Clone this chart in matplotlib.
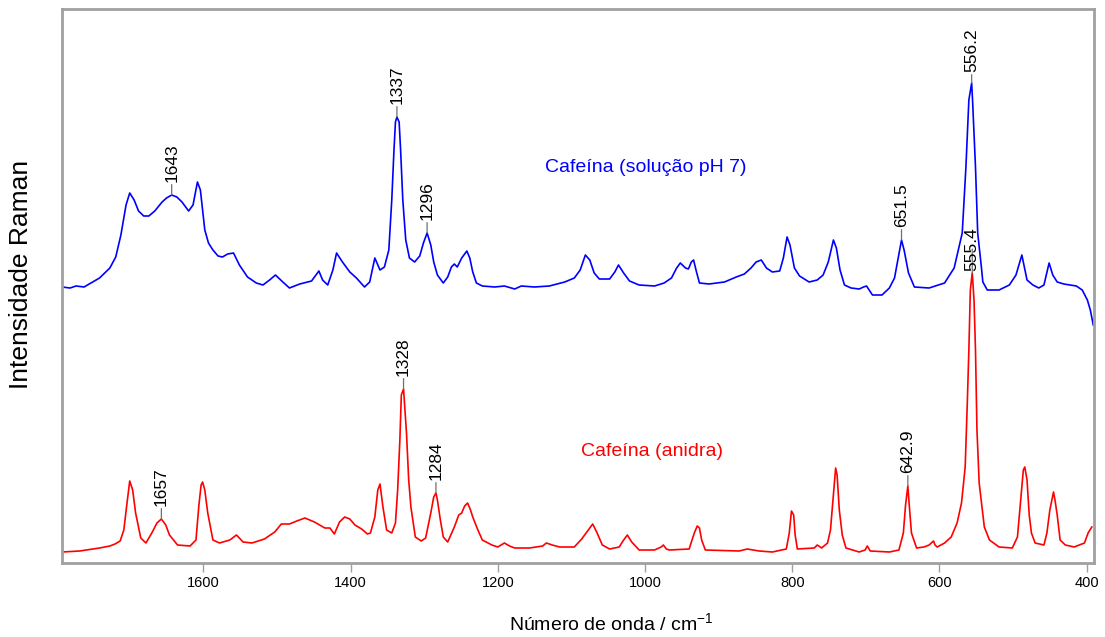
import numpy as np
import matplotlib
matplotlib.use("Agg")
import matplotlib.pyplot as plt

# ── Data (intensity in arbitrary units) ──────────────────────────────────────
blue_wn = [1792, 1781, 1773, 1762, 1741, 1727, 1719, 1712, 1705, 1700, 1694, 1688,
           1681, 1674, 1666, 1656, 1650, 1643, 1636, 1629, 1620, 1614, 1608, 1604,
           1598, 1593, 1587, 1580, 1574, 1567, 1559, 1551, 1540, 1528, 1519, 1510,
           1502, 1492, 1483, 1469, 1453, 1443, 1438, 1431, 1424, 1419, 1411, 1401,
           1392, 1381, 1374, 1367, 1360, 1354, 1348, 1344, 1341, 1339, 1337, 1334,
           1332, 1329, 1325, 1320, 1313, 1306, 1301, 1296, 1291, 1287, 1282, 1274,
           1268, 1263, 1259, 1255, 1249, 1242, 1238, 1234, 1229, 1221, 1204, 1191,
           1177, 1168, 1150, 1130, 1109, 1096, 1088, 1081, 1075, 1069, 1062, 1048,
           1041, 1036, 1029, 1021, 1008, 987, 974, 964, 957, 952, 945, 941, 937,
           934, 930, 926, 913, 892, 876, 865, 856, 849, 842, 835, 827, 817, 812,
           807, 803, 797, 790, 777, 766, 758, 751, 744, 740, 735, 729, 720, 709,
           703, 699, 691, 678, 668, 661, 656, 651.5, 648, 642, 634, 614, 593, 580,
           569, 564, 560, 556.2, 555, 551, 548, 543, 541, 535, 519, 505, 496, 488,
           481, 473, 465, 458, 451, 446, 440, 431, 414, 406, 399, 395, 391]
blue_int = [276, 275, 277, 276, 285, 295, 306, 328, 358, 370, 363, 352,
            347, 347, 352, 361, 365, 368, 366, 361, 352, 358, 381, 373,
            333, 320, 313, 307, 306, 309, 310, 298, 286, 280, 278, 283,
            288, 281, 275, 279, 282, 292, 283, 278, 293, 310, 301, 291,
            285, 276, 281, 305, 293, 296, 313, 363, 413, 441, 446, 441,
            413, 363, 323, 305, 301, 307, 320, 330, 318, 301, 288, 280,
            286, 296, 299, 296, 305, 312, 305, 291, 280, 277, 276, 277,
            274, 277, 276, 277, 281, 285, 293, 308, 303, 290, 284, 284,
            291, 298, 290, 282, 278, 277, 280, 285, 295, 300, 295, 294, 301,
            303, 291, 280, 279, 281, 286, 289, 295, 301, 303, 295, 291, 292, 305,
            326, 318, 295, 287, 281, 283, 288, 301, 323, 315, 293, 278, 275, 274,
            276, 277, 268, 268, 275, 285, 305, 323, 313, 290, 276, 275, 280, 295,
            330, 396, 463, 480, 463, 396, 330, 296, 281, 273, 273, 278, 288, 308,
            283, 278, 275, 278, 300, 288, 281, 279, 277, 273, 263, 253, 238]

red_wn = [1792, 1768, 1741, 1727, 1720, 1713, 1708, 1704, 1700, 1696, 1692, 1685,
          1678, 1670, 1663, 1657, 1651, 1646, 1635, 1618, 1610, 1606, 1603, 1601,
          1598, 1594, 1587, 1578, 1564, 1555, 1546, 1534, 1517, 1503, 1494, 1483,
          1473, 1462, 1449, 1435, 1428, 1422, 1415, 1408, 1401, 1394, 1385, 1377,
          1373, 1367, 1363, 1360, 1356, 1351, 1344, 1339, 1336, 1333, 1331, 1328,
          1327, 1324, 1321, 1318, 1312, 1304, 1298, 1291, 1287, 1284, 1282, 1278,
          1274, 1268, 1259, 1253, 1249, 1245, 1241, 1237, 1234, 1227, 1221, 1208,
          1200, 1191, 1184, 1177, 1157, 1139, 1134, 1126, 1116, 1096, 1086, 1080,
          1071, 1065, 1058, 1048, 1035, 1029, 1024, 1018, 1008, 987, 978, 975,
          971, 967, 940, 936, 933, 929, 926, 923, 918, 872, 861, 845, 827, 808,
          804, 801, 798, 796, 793, 770, 766, 760, 752, 748, 744, 741, 739, 736,
          732, 727, 709, 701, 698, 694, 668, 655, 649, 646, 642.9, 641, 638, 631,
          621, 614, 608, 606, 603, 593, 584, 576, 570, 565, 562, 560, 558, 555.4,
          553, 551, 549, 546, 539, 532, 519, 501, 494, 490, 486, 484, 481, 478,
          475, 470, 458, 454, 450, 445, 443, 440, 436, 429, 417, 403, 398, 393]
red_int = [11, 12, 15, 17, 19, 22, 33, 58, 82, 73, 50, 25,
           20, 30, 40, 44, 38, 28, 18, 17, 23, 58, 78, 81,
           73, 50, 23, 20, 23, 28, 21, 20, 24, 31, 39, 39,
           42, 45, 41, 35, 35, 29, 41, 46, 44, 38, 34, 29,
           30, 46, 73, 79, 56, 33, 30, 40, 73, 123, 168, 174,
           163, 130, 83, 56, 26, 22, 25, 50, 66, 70, 63, 43,
           26, 21, 36, 48, 50, 57, 60, 53, 46, 33, 23, 18,
           16, 20, 17, 15, 15, 17, 20, 18, 16, 16, 24, 30,
           39, 30, 18, 14, 16, 23, 28, 21, 13, 13, 16, 18,
           14, 13, 14, 23, 30, 37, 35, 23, 13, 12, 14, 12, 11, 14,
           30, 52, 48, 28, 14, 15, 18, 15, 20, 33, 68, 95, 88, 53,
           28, 15, 11, 13, 17, 12, 11, 13, 30, 58, 77, 58, 30, 15,
           16, 18, 22, 18, 16, 20, 26, 40, 60, 96, 163, 213, 273, 290,
           263, 213, 133, 80, 36, 23, 16, 15, 26, 60, 93, 96, 83, 48,
           30, 20, 18, 30, 53, 71, 63, 48, 23, 18, 16, 20, 30, 36]

blue_peaks = [1643, 1337, 1296, 651.5, 556.2]
red_peaks = [1657, 1328, 1284, 642.9, 555.4]
blue_peak_labels = ["1643", "1337", "1296", "651.5", "556.2"]
red_peak_labels = ["1657", "1328", "1284", "642.9", "555.4"]

x_ticks = [1600, 1400, 1200, 1000, 800, 600, 400]

# ── Style ───────────────────────────────────────────────────────────────────
plt.rcParams['font.family'] = ['Liberation Sans', 'DejaVu Sans']
plt.rcParams['mathtext.fontset'] = 'custom'
plt.rcParams['mathtext.rm'] = 'Liberation Sans'
plt.rcParams['mathtext.it'] = 'Liberation Sans'

W, H = 1105, 637
fig = plt.figure(figsize=(W / 100, H / 100), dpi=100)
ax = fig.add_axes([62 / W, (H - 563) / H, (1094 - 62) / W, (563 - 9) / H])

ax.plot(red_wn, red_int, color='#ff0000', lw=1.2)
ax.plot(blue_wn, blue_int, color='#0000ff', lw=1.2)

ax.set_xlim(1792, 390)
ax.set_ylim(0, 554)

# frame + ticks
for side in ax.spines.values():
    side.set_color('#a0a0a0')
    side.set_linewidth(2)
ax.set_yticks([])
ax.set_xticks(x_ticks)
ax.tick_params(axis='x', direction='out', length=6.5, width=1, color='#a0a0a0',
               labelsize=10.5, pad=3)


def label_peaks(wn, inten, peaks, labels, lift):
    """Vertical peak labels with a short grey leader."""
    xs, ys = np.asarray(wn)[::-1], np.asarray(inten)[::-1]
    for p, lab in zip(peaks, labels):
        h = np.interp(p, xs, ys)
        ax.annotate(lab, xy=(p, h), xytext=(0, lift.get(lab, 9.5)),
                    textcoords='offset points', rotation=90,
                    ha='center', va='bottom', fontsize=12.5, color='black',
                    arrowprops=dict(arrowstyle='-', color='#707070', lw=0.9,
                                    shrinkA=0, shrinkB=0))


label_peaks(blue_wn, blue_int, blue_peaks, blue_peak_labels, {"556.2": 8})
label_peaks(red_wn, red_int, red_peaks, red_peak_labels, {"555.4": 1.5})

ax.text(999, 395, "Cafeína (solução pH 7)", color='#0000ff', fontsize=14,
        ha='center', va='center')
ax.text(991, 111, "Cafeína (anidra)", color='#ff0000', fontsize=14,
        ha='center', va='center')

fig.text(611 / W, 1 - 623 / H, "Número de onda / cm$^{-1}$", fontsize=14,
         ha='center', va='center')
fig.text(21 / W, 1 - 274 / H, "Intensidade Raman", fontsize=19,
         rotation=90, ha='center', va='center')

plt.savefig("out.png", dpi=100)
plt.close()
